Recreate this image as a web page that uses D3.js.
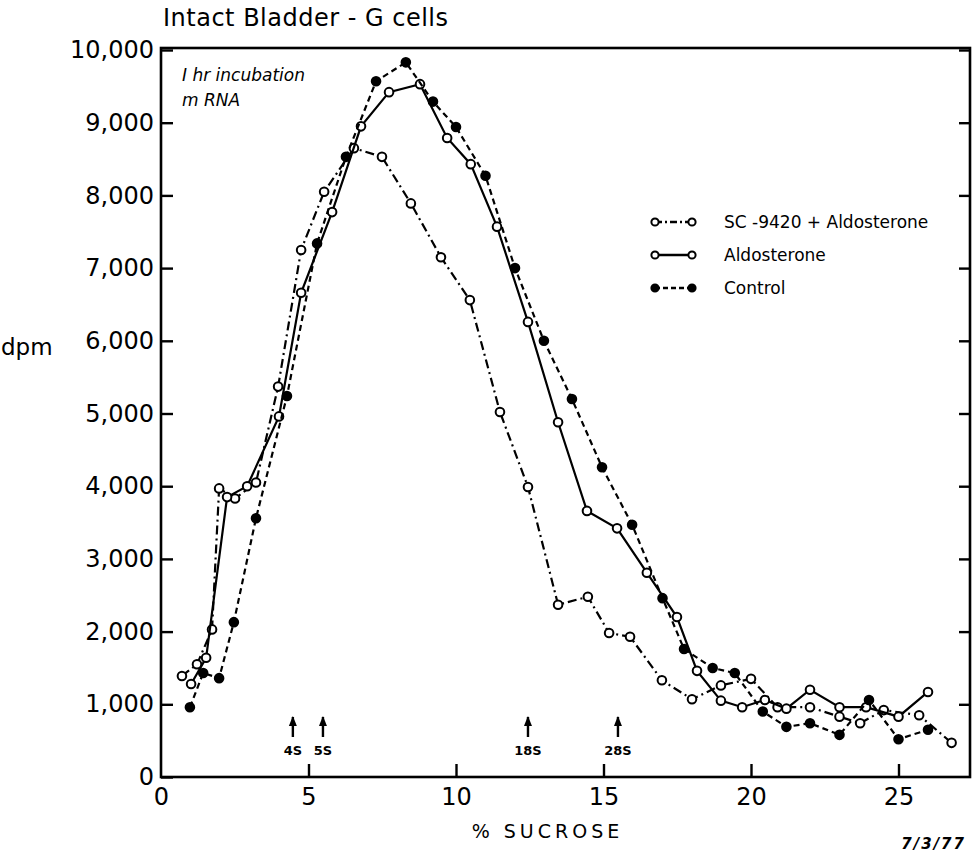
<!DOCTYPE html>
<html>
<head>
<meta charset="utf-8">
<script src="https://cdn.jsdelivr.net/npm/d3@7"></script>
<style>
    body { margin: 0; background: #fff; }
    #chart-area { width: 972px; height: 856px; }
    text { font-family: "DejaVu Sans", sans-serif; fill: #000; }
    .line { fill: none; stroke: #000; stroke-width: 2.2px; }
    .frame { fill: none; stroke: #000; stroke-width: 2.6px; }
    .tick line { stroke: #000; stroke-width: 2.4px; }
</style>
</head>
<body>
<div id="chart-area"></div>
<script>

// SC-9420 + Aldosterone (dash-dot, open circles)
let scX = [0.71, 1.22, 1.73, 1.97, 2.51, 3.22, 3.97, 4.75, 5.53, 6.54, 7.49, 8.47, 9.49, 10.47, 11.49, 12.44,
    13.46, 14.47, 15.19, 15.9, 16.98, 18.0, 18.98, 20.0, 20.9, 22.0, 23.0, 23.7, 24.5, 25.7, 26.8];
let scY = [1390, 1550, 2030, 3970, 3830, 4050, 5370, 7250, 8050, 8650, 8530, 7890, 7150, 6560, 5020, 3990,
    2370, 2480, 1980, 1930, 1330, 1070, 1260, 1350, 960, 960, 830, 740, 920, 850, 470];

// Aldosterone (solid, open circles)
let aldoX = [1.02, 1.53, 2.24, 2.92, 4.0, 4.75, 5.8, 6.78, 7.73, 8.78, 9.7, 10.5, 11.39, 12.44, 13.46,
    14.44, 15.46, 16.47, 17.49, 18.17, 18.98, 19.7, 20.47, 21.2, 22.0, 23.0, 23.9, 25.0, 26.0];
let aldoY = [1280, 1640, 3850, 4000, 4960, 6660, 7770, 8950, 9420, 9530, 8790, 8430, 7570, 6260, 4880,
    3660, 3420, 2810, 2200, 1460, 1050, 960, 1060, 940, 1200, 960, 960, 830, 1170];

// Control (dashed, filled dots)
let ctrlX = [0.98, 1.43, 1.97, 2.47, 3.22, 4.27, 5.29, 6.27, 7.29, 8.3, 9.22, 10.0, 11.0, 12.0, 12.98,
    13.93, 14.95, 15.97, 17.0, 17.73, 18.7, 19.45, 20.4, 21.2, 22.0, 23.0, 24.0, 25.0, 26.0];
let ctrlY = [960, 1430, 1360, 2130, 3560, 5240, 7340, 8530, 9570, 9830, 9290, 8940, 8270, 7000, 6000,
    5200, 4260, 3470, 2460, 1760, 1500, 1430, 900, 690, 740, 580, 1060, 520, 650];

let seriesNames = ["SC -9420 + Aldosterone", "Aldosterone", "Control"];

let xTicks = [0, 5, 10, 15, 20, 25];
let yTicks = [0, 1000, 2000, 3000, 4000, 5000, 6000, 7000, 8000, 9000, 10000];

// sedimentation markers
let markerLabels = ["4S", "5S", "18S", "28S"];
let markerX = [4.47, 5.49, 12.44, 15.49];


class GradientVis {

    constructor(parentElement){
        this.parentElement = parentElement;
        this.initVis();
    }

    initVis(){
        let vis = this;

        vis.margin = {top: 50, right: 2, bottom: 79, left: 161};
        vis.width = 972 - vis.margin.left - vis.margin.right;
        vis.height = 856 - vis.margin.top - vis.margin.bottom;

        vis.svg = d3.select("#" + vis.parentElement).append("svg")
            .attr("width", 972)
            .attr("height", 856)
            .append("g")
            .attr("transform", `translate(${vis.margin.left}, ${vis.margin.top})`);

        // 29.5 px per % sucrose
        vis.x = d3.scaleLinear()
            .domain([0, vis.width / 29.5])
            .range([0, vis.width]);

        vis.y = d3.scaleLinear()
            .domain([0, 10000])
            .range([vis.height, 0]);

        vis.wrangleData();
    }

    wrangleData(){
        let vis = this;

        let zip = (xs, ys) => xs.map((d, i) => ({x: d, y: ys[i]}));

        vis.displayData = [
            {name: seriesNames[0], values: zip(scX, scY), dash: "9,4,2,4", filled: false},
            {name: seriesNames[1], values: zip(aldoX, aldoY), dash: null, filled: false},
            {name: seriesNames[2], values: zip(ctrlX, ctrlY), dash: "6,4", filled: true}
        ];

        vis.updateVis();
    }

    updateVis(){
        let vis = this;

        // axes, ticks pointing inward
        let yAxis = d3.axisLeft(vis.y)
            .tickValues(yTicks)
            .tickSizeInner(-12)
            .tickSizeOuter(0)
            .tickPadding(7)
            .tickFormat(d3.format(","));

        let yAxisRight = d3.axisRight(vis.y)
            .tickValues(yTicks.slice(1))
            .tickSizeInner(-11)
            .tickSizeOuter(0)
            .tickFormat("");

        let xAxis = d3.axisBottom(vis.x)
            .tickValues(xTicks)
            .tickSizeInner(-13)
            .tickSizeOuter(0)
            .tickPadding(11)
            .tickFormat(d3.format("d"));

        vis.svg.append("g")
            .attr("class", "y-axis")
            .call(yAxis)
            .call(g => g.select(".domain").remove())
            .selectAll("text")
            .attr("font-size", 24)
            .attr("font-family", "DejaVu Sans");

        vis.svg.append("g")
            .attr("class", "y-axis-right")
            .attr("transform", `translate(${vis.width}, 0)`)
            .call(yAxisRight)
            .call(g => g.select(".domain").remove());

        vis.svg.append("g")
            .attr("class", "x-axis")
            .attr("transform", `translate(0, ${vis.height})`)
            .call(xAxis)
            .call(g => g.select(".domain").remove())
            .call(g => g.selectAll(".tick").filter(d => d === 0).select("line").remove())
            .selectAll("text")
            .attr("font-size", 24)
            .attr("font-family", "DejaVu Sans");

        vis.svg.append("rect")
            .attr("class", "frame")
            .attr("x", 0)
            .attr("y", -2)
            .attr("width", vis.width)
            .attr("height", vis.height + 2);

        // titles
        vis.svg.append("text")
            .attr("x", 2)
            .attr("y", -24)
            .attr("font-size", 24)
            .attr("letter-spacing", 0.5)
            .text("Intact Bladder - G cells");

        vis.svg.append("text")
            .attr("x", -160)
            .attr("y", vis.y(5800))
            .attr("font-size", 23)
            .text("dpm");

        vis.svg.append("text")
            .attr("x", vis.x(13.1))
            .attr("y", vis.height + 61)
            .attr("text-anchor", "middle")
            .attr("font-size", 19)
            .attr("letter-spacing", 4)
            .text("% SUCROSE");

        vis.svg.append("text")
            .attr("x", vis.width - 4)
            .attr("y", vis.height + 72)
            .attr("text-anchor", "end")
            .attr("font-size", 15)
            .attr("font-style", "italic")
            .attr("font-weight", "bold")
            .attr("letter-spacing", 2)
            .text("7/3/77");

        vis.svg.append("text")
            .attr("x", 21)
            .attr("y", 31)
            .attr("font-size", 17)
            .attr("font-style", "italic")
            .text("I hr incubation");

        vis.svg.append("text")
            .attr("x", 21)
            .attr("y", 56)
            .attr("font-size", 17)
            .attr("font-style", "italic")
            .text("m RNA");

        // sedimentation markers
        let marker = vis.svg.selectAll(".marker")
            .data(markerLabels.map((d, i) => ({label: d, x: markerX[i]})))
            .enter().append("g")
            .attr("class", "marker")
            .attr("transform", d => `translate(${vis.x(d.x)}, ${vis.height - 60})`);

        marker.append("line")
            .attr("y1", 0)
            .attr("y2", 20)
            .attr("stroke", "#000")
            .attr("stroke-width", 2.4);

        marker.append("path")
            .attr("d", "M0,-1 L-4,9 L4,9 Z")
            .attr("fill", "#000");

        marker.append("text")
            .attr("y", 38)
            .attr("text-anchor", "middle")
            .attr("font-size", 13)
            .attr("font-weight", "bold")
            .text(d => d.label);

        // series
        let line = d3.line()
            .x(d => vis.x(d.x))
            .y(d => vis.y(d.y));

        let series = vis.svg.selectAll(".series")
            .data(vis.displayData)
            .enter().append("g")
            .attr("class", "series");

        series.append("path")
            .attr("class", "line")
            .attr("d", d => line(d.values))
            .attr("stroke-dasharray", d => d.dash);

        series.each(function(s){
            d3.select(this).selectAll("circle")
                .data(s.values)
                .enter().append("circle")
                .attr("cx", d => vis.x(d.x))
                .attr("cy", d => vis.y(d.y))
                .attr("r", 4.3)
                .attr("fill", s.filled ? "#000" : "#fff")
                .attr("stroke", "#000")
                .attr("stroke-width", 2);
        });

        // legend
        let legend = vis.svg.selectAll(".legend")
            .data(vis.displayData)
            .enter().append("g")
            .attr("class", "legend")
            .attr("transform", (d, i) => `translate(${494}, ${172 + i * 33})`);

        legend.append("line")
            .attr("x1", 0)
            .attr("x2", 37)
            .attr("stroke", "#000")
            .attr("stroke-width", 2.4)
            .attr("stroke-dasharray", d => d.dash ? (d.filled ? "5,3" : "7,3,2,3") : null);

        legend.selectAll("circle")
            .data(d => [0, 37].map(p => ({p: p, filled: d.filled})))
            .enter().append("circle")
            .attr("cx", d => d.p)
            .attr("r", 3.6)
            .attr("fill", d => d.filled ? "#000" : "#fff")
            .attr("stroke", "#000")
            .attr("stroke-width", 2);

        legend.append("text")
            .attr("x", 69)
            .attr("dy", "0.35em")
            .attr("font-size", 17)
            .text(d => d.name);
    }
}

let gradientVis = new GradientVis("chart-area");

</script>
</body>
</html>
